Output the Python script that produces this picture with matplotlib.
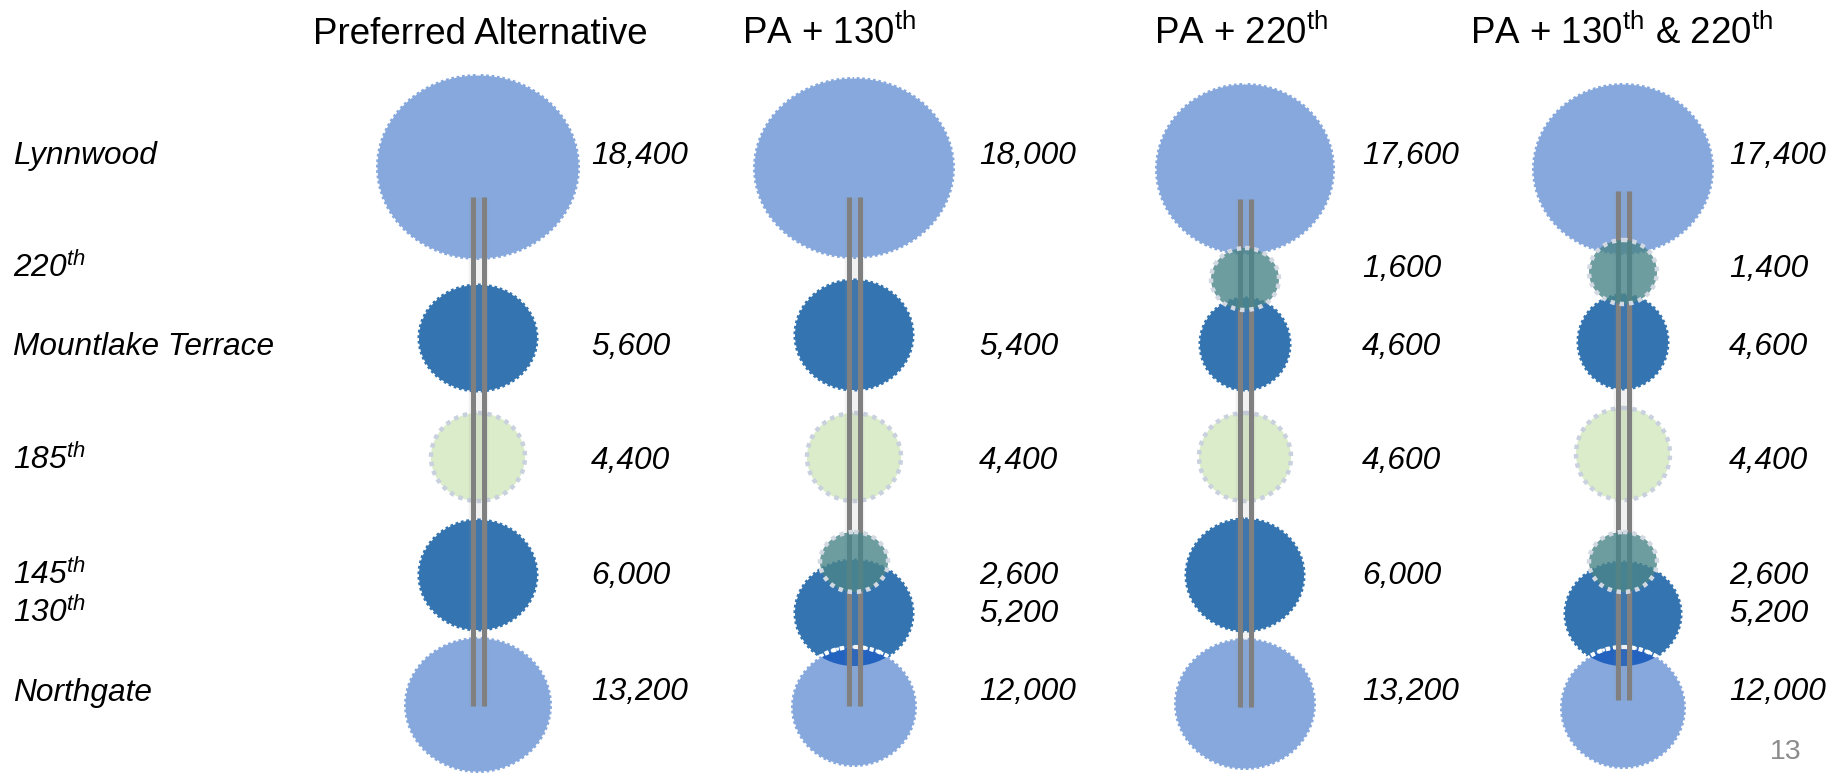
import matplotlib
matplotlib.use("Agg")
import matplotlib.pyplot as plt
from matplotlib.patches import Ellipse

plt.rcParams['font.family'] = ['Liberation Sans', 'DejaVu Sans']
plt.rcParams['mathtext.fontset'] = 'custom'
plt.rcParams['mathtext.rm'] = 'Liberation Sans'
plt.rcParams['mathtext.it'] = 'Liberation Sans:italic'
plt.rcParams['mathtext.bf'] = 'Liberation Sans:bold'

# ---------------- data ----------------
scenarios = ["Preferred Alternative",
             "PA + 130$^{\\mathrm{th}}$",
             "PA + 220$^{\\mathrm{th}}$",
             "PA + 130$^{\\mathrm{th}}$ & 220$^{\\mathrm{th}}$"]
stations = ["Lynnwood", "220$^{th}$", "Mountlake Terrace", "185$^{th}$",
            "145$^{th}$", "130$^{th}$", "Northgate"]

riders_pa = [18400, None, 5600, 4400, 6000, None, 13200]
riders_pa_130 = [18000, None, 5400, 4400, 2600, 5200, 12000]
riders_pa_220 = [17600, 1600, 4600, 4600, 6000, None, 13200]
riders_pa_130_220 = [17400, 1400, 4600, 4400, 2600, 5200, 12000]
riders = [riders_pa, riders_pa_130, riders_pa_220, riders_pa_130_220]

# station role in each scenario (drives colour)
roles_pa = ["end", None, "main", "green", "main", None, "end"]
roles_pa_130 = ["end", None, "main", "green", "new", "main", "end"]
roles_pa_220 = ["end", "new", "main", "green", "main", None, "end"]
roles_pa_130_220 = ["end", "new", "main", "green", "new", "main", "end"]
roles = [roles_pa, roles_pa_130, roles_pa_220, roles_pa_130_220]

# ---------------- layout (pixel space) ----------------
W, H = 1836, 779
col_x = [478, 854, 1245, 1623]
value_x = [591, 979, 1362, 1729]
title_x = [480, 829, 1241, 1622]
title_y = 44
label_x = 13
row_y = [153, 266, 344, 458, 574, 612, 690]
track_top = [197, 197, 199, 191]
track_bot = [706, 706, 707, 700]

circle_y = [[167, None, 338, 457, 575, None, 705],
            [168, None, 335, 457, 562, 613, 707],
            [169, 279, 344, 457, 575, None, 704],
            [169, 272, 342, 454, 562, 614, 708]]
circle_rx = [[102, None, 59, 47, 59, None, 74],
             [101, None, 59, 47, 34, 59, 63],
             [90, 34, 45, 46, 59, None, 71],
             [91, 34, 45, 47, 34, 58, 63]]
circle_ry = [[93, None, 53, 44, 55, None, 68],
             [91, None, 55, 44, 30, 53, 60],
             [86, 31, 46, 44, 56, None, 66],
             [86, 32, 47, 46, 30, 52, 61]]

styles = {
    "end":   dict(fill="#86A8DD", edge="#FFFFFF", lw=2.2, dash=(0.9, 0.9), z=1.1, alpha=1.0),
    "main":  dict(fill="#3474B0", edge="#3474B0", lw=2.2, dash=(0.9, 0.9), z=1.0, alpha=1.0),
    "green": dict(fill="#DAECCA", edge="#C9D0DE", lw=3.2, dash=(1.0, 1.1), z=1.0, alpha=1.0),
    "new":   dict(fill="#4A8589", edge="#D3D9E3", lw=3.2, dash=(1.0, 1.1), z=3.0, alpha=0.8),
}
lens_color = "#2363BF"

fig = plt.figure(figsize=(W / 100, H / 100), dpi=100)
ax = fig.add_axes([0, 0, 1, 1])
ax.set_xlim(0, W)
ax.set_ylim(H, 0)
ax.axis("off")

for c in range(len(scenarios)):
    cx = col_x[c]
    patches = {}
    for s in range(len(stations)):
        role = roles[c][s]
        if role is None:
            continue
        st = styles[role]
        cy, rx, ry = circle_y[c][s], circle_rx[c][s], circle_ry[c][s]
        body = Ellipse((cx, cy), 2 * rx, 2 * ry, facecolor=st["fill"], edgecolor="none",
                       alpha=st["alpha"], zorder=st["z"])
        ax.add_patch(body)
        edge = Ellipse((cx, cy), 2 * rx, 2 * ry, facecolor="none", edgecolor=st["edge"],
                       lw=st["lw"], linestyle=(0, st["dash"]), zorder=st["z"] + 0.05)
        ax.add_patch(edge)
        patches[s] = body
    # overlap of 130th and Northgate
    if 5 in patches and 6 in patches:
        lens = Ellipse((cx, circle_y[c][6]), 2 * circle_rx[c][6], 2 * circle_ry[c][6],
                       facecolor=lens_color, edgecolor="none", zorder=1.12)
        ax.add_patch(lens)
        lens.set_clip_path(patches[5])
        top_edge = Ellipse((cx, circle_y[c][6]), 2 * circle_rx[c][6], 2 * circle_ry[c][6],
                           facecolor="none", edgecolor="#FFFFFF", lw=3.0,
                           linestyle=(0, (1.0, 0.9)), zorder=1.13)
        ax.add_patch(top_edge)
        top_edge.set_clip_path(patches[5])

    # track with soft shadow
    ax.plot([cx, cx], [track_top[c], track_bot[c]], color="#909090", lw=14,
            alpha=0.12, solid_capstyle="butt", zorder=1.9)
    for dx in (-5.5, 5.5):
        ax.plot([cx + dx, cx + dx], [track_top[c], track_bot[c]], color="#808080",
                lw=3.6, solid_capstyle="butt", zorder=2)

    ax.text(title_x[c], title_y, scenarios[c], fontsize=26.5, ha="center",
            va="baseline", color="black")

    for s in range(len(stations)):
        v = riders[c][s]
        if v is None:
            continue
        ax.text(value_x[c], row_y[s] + 10.5, f"{v:,}", fontsize=22.8, style="italic",
                ha="left", va="baseline", color="black")

for s, name in enumerate(stations):
    ax.text(label_x, row_y[s] + 10.5, name, fontsize=22.8, style="italic",
            ha="left", va="baseline", color="black")

ax.text(1786, 752, "13", fontsize=20.5, color="#8C8C8C", ha="center", va="center")

fig.savefig("out.png", dpi=100)
